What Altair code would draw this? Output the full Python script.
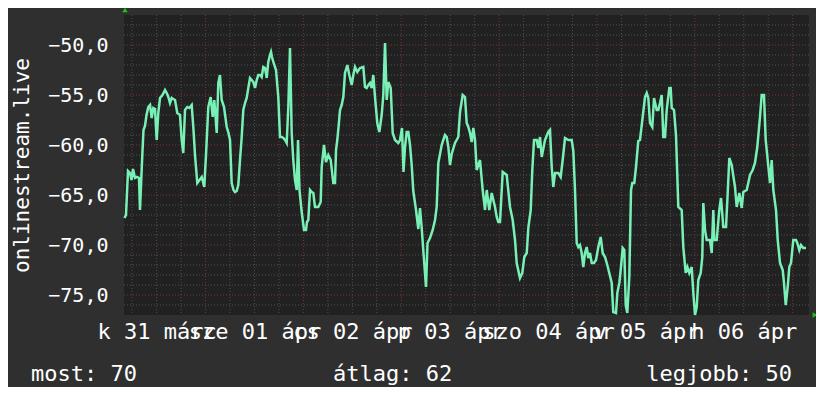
import altair as alt
import pandas as pd

# time in hours since 2020-03-31 04:00, value of the series
hours = [0.12, 0.49, 0.98, 1.47, 1.84, 2.21, 2.70, 3.19, 3.68, 3.92, 4.49, 4.78, 5.15, 5.52, 5.96,
         6.38, 6.79, 7.19, 7.60, 8.02, 8.41, 8.83, 9.44, 10.06, 10.47, 10.87, 11.28, 11.70, 12.09,
         12.51, 13.07, 13.73, 14.15, 14.54, 14.96, 15.52, 16.02, 16.60, 17.00, 17.41, 17.98, 18.52,
         19.06, 19.69, 20.11, 20.68, 21.26, 21.75, 22.15, 22.74, 23.13, 23.54, 23.96, 24.53, 25.19,
         25.63, 26.00, 26.41, 26.86, 27.22, 27.64, 28.03, 28.45, 28.82, 29.26, 29.68, 30.09, 30.53,
         30.90, 31.32, 31.71, 32.13, 32.55, 32.94, 33.36, 33.77, 34.16, 34.58, 35.00, 35.39, 35.81,
         36.05, 36.30, 36.62, 37.28, 37.84, 38.26, 38.68, 39.07, 39.49, 39.90, 40.30, 40.71, 41.13,
         41.52, 41.94, 42.36, 42.68, 43.04, 43.58, 44.15, 44.64, 44.88, 45.20, 45.62, 46.04, 46.43,
         46.84, 47.65, 48.24, 48.49, 49.05, 49.54, 50.11, 50.70, 51.33, 51.75, 52.00, 52.31, 52.66,
         52.98, 53.39, 53.79, 54.20, 54.77, 55.26, 55.85, 56.24, 56.66, 57.22, 57.88, 58.69, 59.11,
         59.52, 59.92, 60.33, 60.75, 61.14, 61.56, 62.12, 62.62, 63.20, 63.60, 64.02, 64.43, 64.82,
         65.41, 65.90, 66.47, 67.27, 67.69, 68.18, 68.55, 68.92, 69.33, 69.73, 70.14, 70.56, 70.95,
         71.62, 72.18, 72.60, 73.01, 73.58, 74.07, 74.44, 75.05, 75.71, 76.28, 76.69, 77.09, 77.92,
         78.31, 78.73, 79.15, 79.54, 79.95, 80.37, 81.18, 81.99, 82.41, 83.07, 83.63, 84.05, 84.44,
         84.86, 85.28, 85.67, 86.09, 86.50, 87.31, 87.97, 88.54, 88.96, 89.59, 90.18, 90.99, 91.41,
         91.80, 92.22, 92.88, 93.86, 94.67, 95.33, 95.90, 96.31, 97.12, 97.69, 98.18, 98.77, 99.16,
         99.75, 100.14, 100.56, 101.22, 101.61, 102.03, 102.45, 103.25, 104.06, 104.48, 104.90,
         105.29, 105.71, 106.52, 107.10, 107.59, 108.16, 108.97, 109.80, 110.20, 110.61, 111.03,
         111.42, 111.84, 112.25, 112.65, 113.06, 113.48, 113.87, 114.29, 114.71, 115.27, 115.76,
         116.33, 116.91, 117.40, 117.97, 118.53, 119.02, 119.61, 120.00, 120.67, 120.99, 121.48,
         121.89, 122.31, 122.70, 123.05, 123.44, 123.93, 124.35, 124.66, 125.15, 125.57, 126.13,
         126.55, 127.21, 127.78, 128.20, 128.59, 129.01, 129.57, 129.99, 130.65, 131.04, 131.46,
         131.88, 132.27, 132.69, 133.10, 133.74, 134.08, 134.33, 134.89, 135.38, 135.95, 136.78,
         137.17, 137.76, 138.16, 138.65, 139.23, 139.63, 140.04, 140.46, 140.85, 141.44, 141.83,
         142.08, 142.49, 142.91, 143.72, 144.14, 144.53, 144.77, 145.36, 146.00, 146.42, 146.98,
         147.65, 148.06, 148.46, 149.04, 149.85, 150.27, 150.91, 151.50, 151.89, 152.72, 153.11,
         153.53, 154.19, 154.75, 155.32, 155.98, 156.40, 156.96, 157.38, 157.87, 158.44, 158.85,
         159.25, 159.91, 160.33, 160.89, 161.55, 161.87, 162.29, 162.78, 163.17, 163.59, 164.15,
         164.81, 165.13, 165.62, 166.04, 166.60, 167.26]

values = [-67.3, -67.0, -62.6, -62.8, -63.5, -62.4, -63.3, -63.2, -63.3, -66.5, -61.0, -58.5, -58.1,
          -57.0, -56.2, -56.0, -57.3, -56.3, -56.4, -59.5, -56.8, -55.3, -55.0, -54.5, -54.8, -55.2,
          -55.8, -55.3, -55.4, -55.5, -56.8, -57.0, -59.5, -60.8, -56.5, -56.2, -56.3, -56.0, -58.2,
          -61.0, -63.8, -63.5, -63.2, -64.2, -61.0, -56.2, -55.2, -57.2, -55.5, -58.8, -53.8, -53.0,
          -55.5, -56.2, -58.2, -58.8, -59.5, -63.8, -64.5, -64.7, -64.6, -64.0, -61.5, -59.5, -56.5,
          -55.8, -55.3, -54.2, -53.3, -53.5, -53.7, -54.3, -53.5, -53.0, -53.0, -53.2, -52.2, -52.3,
          -53.3, -51.7, -51.0, -50.7, -51.2, -51.7, -52.5, -55.2, -59.2, -59.2, -59.3, -59.5, -59.8,
          -56.2, -50.3, -58.8, -61.5, -63.5, -64.5, -59.5, -64.5, -66.7, -68.5, -68.5, -67.7, -67.5,
          -64.5, -64.7, -64.8, -66.2, -66.2, -65.7, -62.2, -60.0, -61.7, -61.0, -61.5, -63.8, -63.8,
          -60.5, -59.5, -58.0, -56.5, -56.0, -55.2, -52.8, -52.0, -53.0, -54.0, -53.0, -52.2, -52.7,
          -52.3, -52.2, -54.2, -54.3, -54.0, -53.8, -54.3, -53.0, -55.2, -57.8, -58.7, -57.0, -55.0,
          -49.8, -55.5, -53.7, -54.3, -58.8, -59.5, -59.8, -59.5, -58.3, -62.7, -60.2, -58.7, -58.7,
          -60.0, -62.0, -64.6, -66.5, -68.4, -66.3, -68.3, -71.5, -74.2, -69.8, -69.3, -68.5, -67.5,
          -66.2, -61.8, -60.0, -59.5, -59.0, -59.2, -60.2, -62.0, -60.9, -59.8, -59.2, -56.7, -55.0,
          -55.2, -57.8, -58.2, -58.8, -59.7, -58.3, -59.5, -62.5, -61.5, -64.5, -66.5, -64.5, -66.5,
          -64.8, -66.2, -67.2, -67.7, -67.7, -62.7, -63.0, -66.2, -67.5, -69.5, -71.8, -73.3, -72.8,
          -71.2, -70.8, -68.3, -66.5, -62.5, -59.5, -59.5, -60.3, -59.2, -61.2, -59.5, -58.7, -58.5,
          -62.2, -64.2, -62.8, -62.8, -63.2, -61.5, -59.3, -59.5, -59.5, -60.6, -64.5, -69.8, -70.2,
          -70.0, -70.8, -72.2, -70.8, -70.2, -71.3, -70.8, -71.8, -71.8, -71.5, -70.2, -69.2, -70.8,
          -71.2, -72.0, -72.8, -73.8, -76.7, -76.8, -74.8, -73.8, -72.2, -70.3, -70.5, -76.0, -76.8,
          -73.2, -64.5, -63.8, -63.8, -62.2, -59.6, -59.5, -57.2, -55.2, -54.8, -55.3, -57.8, -58.2,
          -55.3, -56.5, -56.5, -55.8, -55.0, -59.2, -59.2, -56.5, -54.3, -54.3, -56.3, -56.5, -59.0,
          -66.2, -66.5, -70.2, -72.8, -72.2, -72.8, -72.2, -74.8, -77.0, -76.2, -73.5, -72.8, -71.2,
          -65.8, -68.5, -69.5, -69.5, -70.8, -66.5, -69.5, -69.5, -66.5, -65.3, -68.2, -68.2, -64.8,
          -61.3, -62.0, -64.2, -66.2, -64.8, -66.3, -64.7, -64.5, -63.8, -63.0, -62.5, -61.8, -60.2,
          -57.2, -55.0, -55.0, -59.5, -61.5, -63.8, -61.5, -64.5, -66.5, -69.5, -71.8, -72.5, -73.8,
          -76.0, -74.2, -72.2, -71.8, -69.5, -69.5, -69.8, -70.5, -70.0, -70.3, -70.3]

day_labels = ["k 31 márc", "sze 01 ápr", "cs 02 ápr", "p 03 ápr", "szo 04 ápr", "v 05 ápr", "h 06 ápr"]
label_hours = [8, 32, 56, 80, 104, 128, 152]
y_ticks = [-75, -70, -65, -60, -55, -50]
footer = ["most: 70", "átlag: 62", "legjobb: 50"]
y_title = "onlinestream.live"

X_DOMAIN = [0, 168]
Y_DOMAIN = [-77, -47]

FONT = "DejaVu Sans Mono"
BG = "#2f2f2f"
PLOT_BG = "#212121"
LINE = "#78f0b6"
MINOR = "#505050"
MAJOR = "#743838"
ARROW = "#19c419"

df = pd.DataFrame({"h": hours, "v": values})
xs = alt.Scale(domain=X_DOMAIN, nice=False, zero=False)
ys = alt.Scale(domain=Y_DOMAIN, nice=False, zero=False)

minor_x = [h for h in range(2, 168, 6) if (h - 20) % 24 != 0]
major_x = list(range(20, 168, 24))
minor_y = [v for v in range(-76, -47) if v % 5 != 0]
major_y = list(range(-75, -47, 5))

label_js = "[" + ",".join("'" + s + "'" for s in day_labels) + "][floor(datum.value/24)]"

X_AXIS = alt.Axis(
    values=label_hours, labelExpr=label_js, grid=False, domain=False, ticks=False,
    tickSize=0, labelFont=FONT, labelFontSize=22, labelColor="white",
    labelPadding=23, labelBaseline="alphabetic", labelOverlap=False,
    labelFlush=False, labelBound=False, title=None)

Y_AXIS = alt.Axis(
    values=y_ticks, labelExpr="replace(format(datum.value, '.1f'), '.', ',')",
    grid=False, domain=False, ticks=False, tickSize=0, labelFont=FONT,
    labelFontSize=20, labelColor="white", labelPadding=16, labelAlign="right",
    labelBaseline="middle", title=y_title, titleFont=FONT, titleFontSize=21,
    titleFontWeight="normal", titleColor="white", titleAngle=270, titleX=-96,
    titleY=150, titleAlign="center", titleBaseline="alphabetic")


def vrules(pos, color):
    return alt.Chart(pd.DataFrame({"h": pos})).mark_rule(
        color=color, strokeWidth=1, strokeDash=[1, 2]
    ).encode(x=alt.X("h:Q", scale=xs, axis=X_AXIS))


def hrules(pos, color):
    return alt.Chart(pd.DataFrame({"v": pos})).mark_rule(
        color=color, strokeWidth=1, strokeDash=[1, 2]
    ).encode(y=alt.Y("v:Q", scale=ys, axis=Y_AXIS))


line = alt.Chart(df).mark_line(color=LINE, strokeWidth=2.5, interpolate="linear").encode(
    x=alt.X("h:Q", scale=xs, axis=X_AXIS),
    y=alt.Y("v:Q", scale=ys, axis=Y_AXIS),
)

arrow_up = alt.Chart(pd.DataFrame({"a": [0]})).mark_point(
    shape="triangle-up", filled=True, color=ARROW, size=30, opacity=1
).encode(x=alt.value(1), y=alt.value(-5))

arrow_right = alt.Chart(pd.DataFrame({"a": [0]})).mark_point(
    shape="triangle-right", filled=True, color=ARROW, size=30, opacity=1
).encode(x=alt.value(691), y=alt.value(300))


def foot(txt, xpos, align):
    return alt.Chart(pd.DataFrame({"t": [txt]})).mark_text(
        font=FONT, fontSize=22, color="white", align=align, baseline="alphabetic"
    ).encode(x=alt.value(xpos), y=alt.value(366), text="t:N")


chart = alt.layer(
    vrules(minor_x, MINOR), hrules(minor_y, MINOR),
    vrules(major_x, MAJOR), hrules(major_y, MAJOR),
    line, arrow_up, arrow_right,
    foot(footer[0], -93, "left"), foot(footer[1], 209, "left"), foot(footer[2], 668, "right"),
).properties(
    width=685, height=300,
    autosize=alt.AutoSizeParams(type="none"),
    padding={"left": 116, "top": 7, "right": 7, "bottom": 72},
    background=BG,
).configure_view(
    fill=PLOT_BG, stroke=None
)

chart.save("out.html", embed_options={"renderer": "svg", "actions": False})
